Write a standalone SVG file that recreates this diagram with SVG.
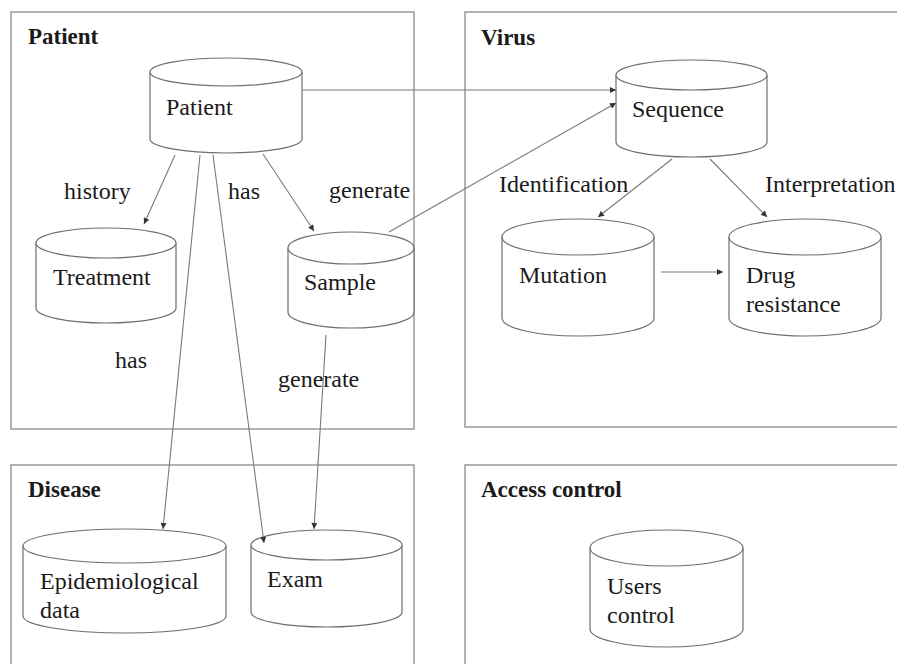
<svg xmlns="http://www.w3.org/2000/svg" width="897" height="664" viewBox="0 0 897 664" font-family="Liberation Serif, Times New Roman, serif">
<defs>
<style>
.panel{fill:none;stroke:#8a8a8a;stroke-width:1.3}
.cyl{fill:#fff;stroke:#6e6e6e;stroke-width:1.2}
.edge{fill:none;stroke:#7a7a7a;stroke-width:1.1;marker-end:url(#ah)}
.title{font-weight:bold;font-size:23px;fill:#1a1a1a}
.lbl{font-size:24px;fill:#1a1a1a}
</style>
<marker id="ah" viewBox="0 0 10 10" refX="10" refY="5" markerWidth="7" markerHeight="6" markerUnits="userSpaceOnUse" orient="auto">
<path d="M0,0 L10,5 L0,10 z" fill="#333"/>
</marker>
</defs>
<rect width="897" height="664" fill="#fff"/>

<g id="panels">
<rect class="panel" x="11" y="12" width="403" height="417"/>
<rect class="panel" x="465" y="12" width="450" height="415"/>
<rect class="panel" x="11" y="465" width="403" height="220"/>
<rect class="panel" x="465" y="465" width="450" height="220"/>
<text class="title" x="28" y="44" font-family="Liberation Serif, serif">Patient</text>
<text class="title" x="481" y="45" font-family="Liberation Serif, serif">Virus</text>
<text class="title" x="28" y="497" font-family="Liberation Serif, serif">Disease</text>
<text class="title" x="481" y="497" font-family="Liberation Serif, serif">Access control</text>
</g>

<g id="node-patient">
<path class="cyl" d="M150,72 L150,139 A76,14 0 0 0 302,139 L302,72"/>
<ellipse class="cyl" cx="226" cy="72" rx="76" ry="14"/>
<text class="lbl" x="166" y="115" font-family="Liberation Serif, serif">Patient</text>
</g>

<g id="node-treatment">
<path class="cyl" d="M36,243 L36,308 A70,15 0 0 0 176,308 L176,243"/>
<ellipse class="cyl" cx="106" cy="243" rx="70" ry="15"/>
<text class="lbl" x="53" y="285" font-family="Liberation Serif, serif">Treatment</text>
</g>

<g id="node-sample">
<path class="cyl" d="M288,248 L288,312 A63,16 0 0 0 414,312 L414,248"/>
<ellipse class="cyl" cx="351" cy="248" rx="63" ry="16"/>
<text class="lbl" x="304" y="290" font-family="Liberation Serif, serif">Sample</text>
</g>

<g id="node-sequence">
<path class="cyl" d="M616,75 L616,142 A75.5,15 0 0 0 767,142 L767,75"/>
<ellipse class="cyl" cx="691.5" cy="75" rx="75.5" ry="15"/>
<text class="lbl" x="632" y="117" font-family="Liberation Serif, serif">Sequence</text>
</g>

<g id="node-mutation">
<path class="cyl" d="M502,237 L502,318 A76,18 0 0 0 654,318 L654,237"/>
<ellipse class="cyl" cx="578" cy="237" rx="76" ry="18"/>
<text class="lbl" x="519" y="283" font-family="Liberation Serif, serif">Mutation</text>
</g>

<g id="node-drug">
<path class="cyl" d="M729,237 L729,318 A76,18 0 0 0 881,318 L881,237"/>
<ellipse class="cyl" cx="805" cy="237" rx="76" ry="18"/>
<text class="lbl" x="746" y="283" font-family="Liberation Serif, serif">Drug</text>
<text class="lbl" x="746" y="312" font-family="Liberation Serif, serif">resistance</text>
</g>

<g id="node-epidemiological">
<path class="cyl" d="M23,546 L23,616 A101.5,17 0 0 0 226,616 L226,546"/>
<ellipse class="cyl" cx="124.5" cy="546" rx="101.5" ry="17"/>
<text class="lbl" x="40" y="589" font-family="Liberation Serif, serif">Epidemiological</text>
<text class="lbl" x="40" y="618" font-family="Liberation Serif, serif">data</text>
</g>

<g id="node-exam">
<path class="cyl" d="M251,545 L251,612 A75.5,15 0 0 0 402,612 L402,545"/>
<ellipse class="cyl" cx="326.5" cy="545" rx="75.5" ry="15"/>
<text class="lbl" x="267" y="587" font-family="Liberation Serif, serif">Exam</text>
</g>

<g id="node-users">
<path class="cyl" d="M590,548 L590,629 A76.5,18 0 0 0 743,629 L743,548"/>
<ellipse class="cyl" cx="666.5" cy="548" rx="76.5" ry="18"/>
<text class="lbl" x="607" y="594" font-family="Liberation Serif, serif">Users</text>
<text class="lbl" x="607" y="623" font-family="Liberation Serif, serif">control</text>
</g>

<g id="connectors">
<line class="edge" x1="302" y1="90" x2="616" y2="90"/>
<line class="edge" x1="389" y1="232" x2="616" y2="103"/>
<line class="edge" x1="175" y1="155" x2="144" y2="224"/>
<line class="edge" x1="263" y1="154" x2="314" y2="231"/>
<line class="edge" x1="200" y1="155" x2="163" y2="529"/>
<line class="edge" x1="213" y1="155" x2="264" y2="543"/>
<line class="edge" x1="326" y1="335" x2="314" y2="529"/>
<line class="edge" x1="672" y1="159" x2="598" y2="217"/>
<line class="edge" x1="710" y1="159" x2="767" y2="217"/>
<line class="edge" x1="661" y1="272" x2="723" y2="272"/>
<text class="lbl" x="64" y="199" font-family="Liberation Serif, serif">history</text>
<text class="lbl" x="228" y="199" font-family="Liberation Serif, serif">has</text>
<text class="lbl" x="329" y="198" font-family="Liberation Serif, serif">generate</text>
<text class="lbl" x="115" y="368" font-family="Liberation Serif, serif">has</text>
<text class="lbl" x="278" y="387" font-family="Liberation Serif, serif">generate</text>
<text class="lbl" x="499" y="192" font-family="Liberation Serif, serif">Identification</text>
<text class="lbl" x="765" y="192" font-family="Liberation Serif, serif">Interpretation</text>
</g>
</svg>
